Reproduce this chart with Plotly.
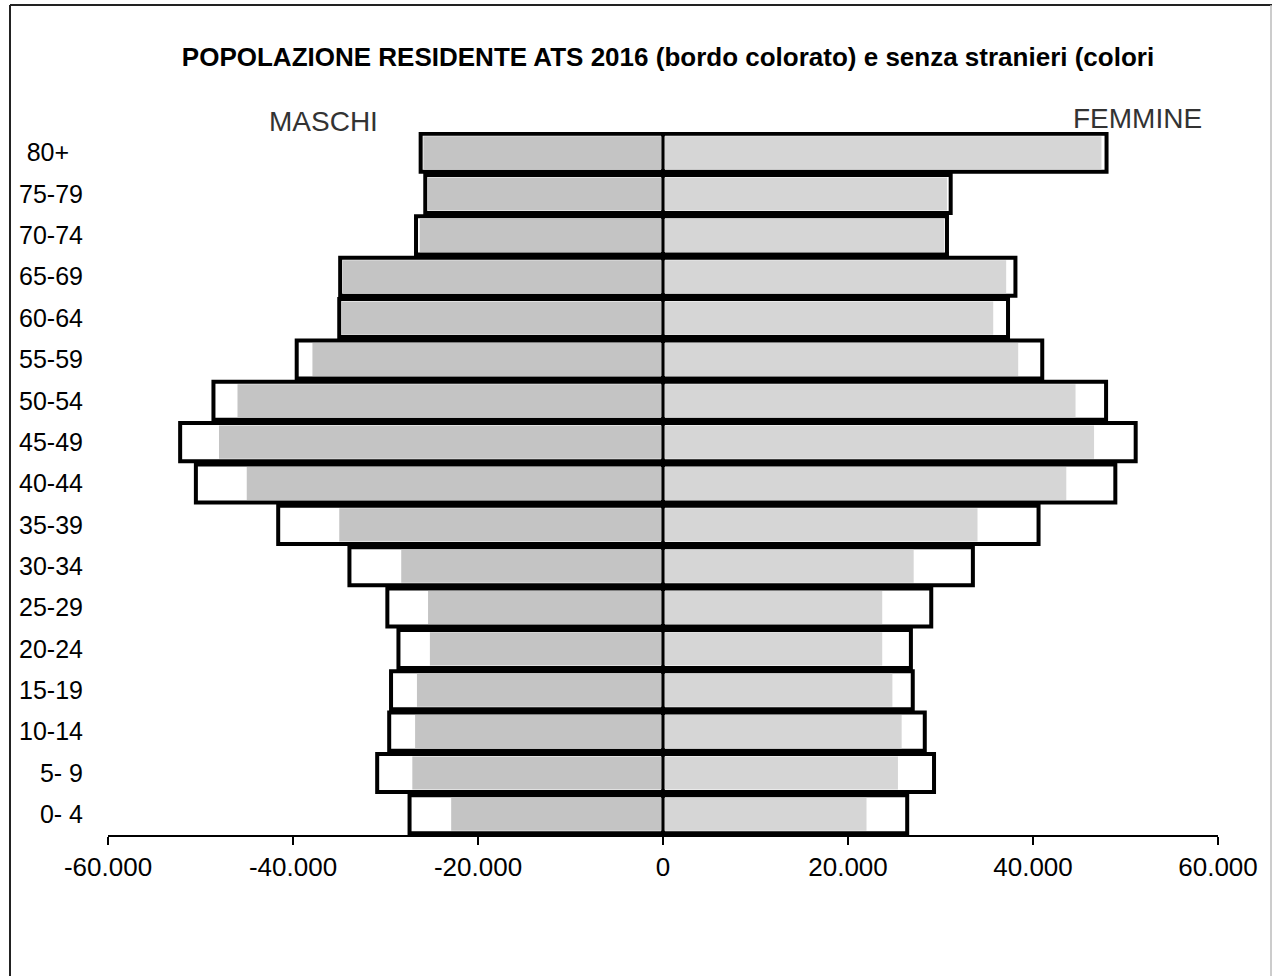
import plotly.graph_objects as go

age_groups = ["0- 4", "5- 9", "10-14", "15-19", "20-24", "25-29", "30-34", "35-39",
              "40-44", "45-49", "50-54", "55-59", "60-64", "65-69", "70-74", "75-79", "80+"]
tick_labels = ["0- 4", "5- 9", "10-14", "15-19", "20-24", "25-29", "30-34", "35-39",
               "40-44", "45-49", "50-54", "55-59", "60-64", "65-69", "70-74", "75-79",
               "80+\u00a0\u00a0"]

# total resident population (outlined bars)
male_total = [27400, 30900, 29600, 29400, 28600, 29800, 33900, 41600,
              50500, 52200, 48600, 39600, 35000, 34900, 26700, 25700, 26200]
female_total = [26400, 29300, 28300, 27000, 26800, 29000, 33500, 40600,
                48900, 51100, 47900, 41000, 37300, 38100, 30700, 31100, 47950]
# population without foreigners (grey fill)
male_nat = [22900, 27100, 26800, 26600, 25200, 25400, 28300, 35000,
            45000, 48000, 46000, 37900, 34700, 34600, 26300, 25400, 25900]
female_nat = [22000, 25400, 25800, 24800, 23700, 23700, 27100, 34000,
              43600, 46600, 44600, 38400, 35700, 37100, 30400, 30700, 47400]

x_ticks = [-60000, -40000, -20000, 0, 20000, 40000, 60000]
x_tick_text = ["-60.000", "-40.000", "-20.000", "0", "20.000", "40.000", "60.000"]

FONT = "Liberation Sans, Arial, sans-serif"

fig = go.Figure()
fig.add_trace(go.Bar(y=age_groups, x=[-v for v in male_total], orientation="h", width=0.92,
                     marker=dict(color="white", line=dict(color="black", width=4)),
                     name="Maschi totale", showlegend=False))
fig.add_trace(go.Bar(y=age_groups, x=female_total, orientation="h", width=0.92,
                     marker=dict(color="white", line=dict(color="black", width=4)),
                     name="Femmine totale", showlegend=False))
fig.add_trace(go.Bar(y=age_groups, x=[-v for v in male_nat], orientation="h", width=0.8,
                     marker=dict(color="#c4c4c4", line=dict(width=0)),
                     name="Maschi senza stranieri", showlegend=False))
fig.add_trace(go.Bar(y=age_groups, x=female_nat, orientation="h", width=0.8,
                     marker=dict(color="#d6d6d6", line=dict(width=0)),
                     name="Femmine senza stranieri", showlegend=False))

L, R, T, B = 108, 56, 132, 141
W, H = 1274, 976
pw, ph = W - L - R, H - T - B

def px_x(px):
    return (px - L) / pw

def px_y(py):
    return (H - B - py) / ph

fig.update_layout(
    width=W, height=H,
    margin=dict(l=L, r=R, t=T, b=B),
    paper_bgcolor="white", plot_bgcolor="white",
    barmode="overlay",
    font=dict(family=FONT, color="black", size=26),
    title=dict(text="<b>POPOLAZIONE RESIDENTE ATS 2016 (bordo colorato) e senza stranieri (colori</b>",
               x=668 / W, xanchor="center", y=1 - 57 / H, yanchor="middle",
               xref="container", yref="container",
               font=dict(family=FONT, size=26, color="black")),
    xaxis=dict(range=[-60000, 60000], tickvals=x_ticks, ticktext=x_tick_text,
               showgrid=False, zeroline=False, showline=True, linecolor="black", linewidth=2,
               ticks="outside", ticklen=8, tickwidth=2, tickcolor="black",
               tickfont=dict(size=26, family=FONT, color="black")),
    yaxis=dict(categoryorder="array", categoryarray=age_groups,
               tickvals=age_groups, ticktext=tick_labels,
               range=[-0.5, 16.5], showgrid=False, zeroline=False, showline=False,
               ticks="", ticklabelstandoff=24,
               tickfont=dict(size=25, family=FONT, color="black")),
    shapes=[
        dict(type="line", xref="x", yref="paper", x0=0, x1=0, y0=0, y1=1,
             line=dict(color="black", width=3), layer="above"),
        dict(type="line", xref="paper", yref="paper",
             x0=px_x(10), x1=px_x(1272), y0=px_y(5), y1=px_y(5),
             line=dict(color="#222222", width=2), layer="below"),
        dict(type="line", xref="paper", yref="paper",
             x0=px_x(10), x1=px_x(10), y0=px_y(5), y1=px_y(1000),
             line=dict(color="#222222", width=2), layer="below"),
        dict(type="line", xref="paper", yref="paper",
             x0=px_x(1271), x1=px_x(1271), y0=px_y(5), y1=px_y(1000),
             line=dict(color="#bbbbbb", width=1.5), layer="below"),
    ],
    annotations=[
        dict(text="MASCHI", x=px_x(323), y=px_y(121), xref="paper", yref="paper",
             showarrow=False, xanchor="center", yanchor="middle",
             font=dict(family=FONT, size=28, color="#333333")),
        dict(text="FEMMINE", x=px_x(1137), y=px_y(119), xref="paper", yref="paper",
             showarrow=False, xanchor="center", yanchor="middle",
             font=dict(family=FONT, size=28, color="#333333")),
    ],
)

fig.write_html("out.html", config={"displayModeBar": False},
               post_script="document.body.style.margin='0';")
